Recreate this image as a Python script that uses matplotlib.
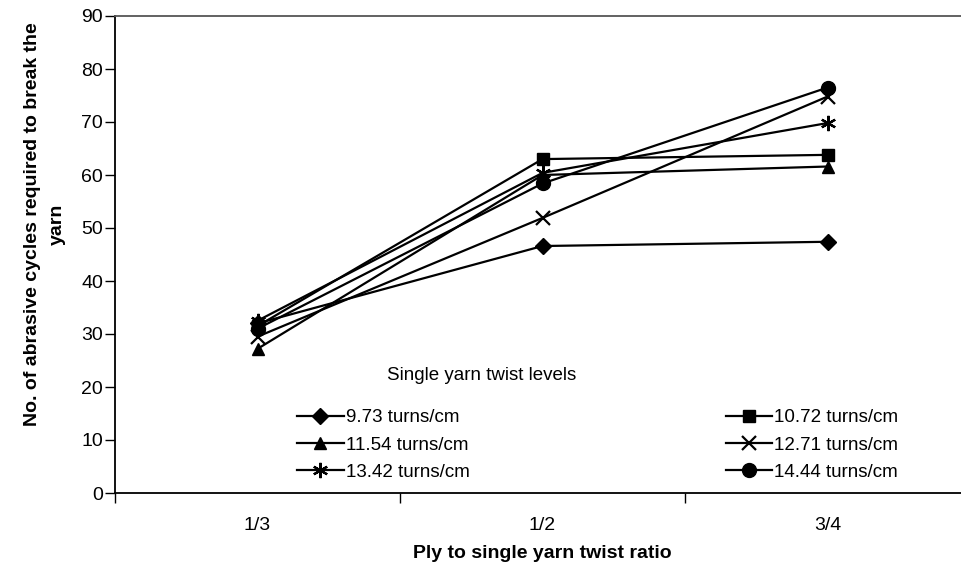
import matplotlib
matplotlib.use("Agg")
import matplotlib.pyplot as plt
from matplotlib.ticker import FixedLocator, NullFormatter

plt.rcParams['font.family'] = ['Liberation Sans', 'DejaVu Sans']

categories = ["1/3", "1/2", "3/4"]
series_labels = ["9.73 turns/cm", "10.72 turns/cm", "11.54 turns/cm",
                 "12.71 turns/cm", "13.42 turns/cm", "14.44 turns/cm"]
v_973 = [32.0, 46.6, 47.4]
v_1072 = [31.5, 63.0, 63.8]
v_1154 = [27.2, 60.0, 61.6]
v_1271 = [29.5, 51.9, 74.8]
v_1342 = [32.5, 60.4, 69.8]
v_1444 = [31.0, 58.4, 76.5]
values = [v_973, v_1072, v_1154, v_1271, v_1342, v_1444]
markers = ['D', 's', '^', 'x', (6, 2, 0), 'o']
msizes = [8, 9, 9, 10, 11, 10]

fig = plt.figure(figsize=(9.61, 5.72), dpi=100)
ax = fig.add_axes([115 / 961, 79 / 572, 855 / 961, 477 / 572])

x = list(range(len(categories)))
handles = []
for vals, m, ms, lab in zip(values, markers, msizes, series_labels):
    h, = ax.plot(x, vals, color='black', lw=1.6, marker=m, ms=ms,
                 markeredgewidth=1.6 if m in ('x',) or isinstance(m, tuple) else 1,
                 label=lab, clip_on=False)
    handles.append(h)

ax.set_xlim(-0.5, 2.5)
ax.set_ylim(0, 90)
ax.set_yticks(range(0, 91, 10))
ax.set_xticks(x)
ax.set_xticklabels(categories)
ax.xaxis.set_minor_locator(FixedLocator([-0.5, 0.5, 1.5, 2.5]))
ax.xaxis.set_minor_formatter(NullFormatter())
ax.tick_params(axis='x', which='major', length=0, pad=17, labelsize=14)
ax.tick_params(axis='x', which='minor', length=7, width=1, direction='out')
ax.tick_params(axis='y', length=7, width=1, direction='out', labelsize=14, pad=1.5)

for s in ['left', 'bottom']:
    ax.spines[s].set_linewidth(1.3)
    ax.spines[s].set_color('black')
ax.spines['top'].set_color('#555555')
ax.spines['top'].set_linewidth(1.3)
ax.spines['right'].set_visible(False)

ax.set_xlabel("Ply to single yarn twist ratio", fontsize=14, fontweight='bold', labelpad=8)
ax.set_ylabel("No. of abrasive cycles required to break the\nyarn", fontsize=14,
              fontweight='bold', labelpad=13, linespacing=1.55)
ax.yaxis.set_label_coords(-0.058, (493 - 224) / 477)

order = [0, 2, 4, 1, 3, 5]
leg = ax.legend([handles[i] for i in order], [series_labels[i] for i in order],
                ncol=2, frameon=False, fontsize=13.5, handlelength=2.5,
                handletextpad=0.1, columnspacing=13.65, labelspacing=0.55,
                loc='upper left', bbox_to_anchor=((297 - 115) / 855, (493 - 409) / 477),
                borderaxespad=0, borderpad=0)
ax.text((387 - 115) / 855, (493 - 375) / 477, "Single yarn twist levels",
        transform=ax.transAxes, fontsize=13.5, va='center', ha='left')

fig.savefig("out.png", dpi=100)
